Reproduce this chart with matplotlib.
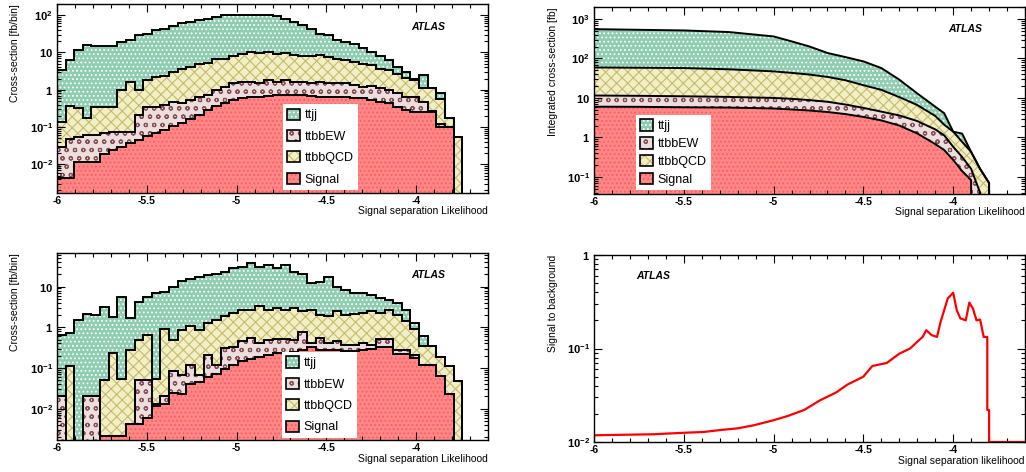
import numpy as np
import matplotlib
matplotlib.use("Agg")
import matplotlib.pyplot as plt
from matplotlib.patches import Patch
from matplotlib.ticker import MultipleLocator, LogLocator, NullFormatter

plt.rcParams['font.family'] = ['Liberation Sans', 'DejaVu Sans']
plt.rcParams['mathtext.fontset'] = 'custom'
plt.rcParams['mathtext.rm'] = 'Liberation Sans'
plt.rcParams['mathtext.bf'] = 'Liberation Sans:bold'
plt.rcParams['axes.unicode_minus'] = False
plt.rcParams['hatch.linewidth'] = 0.8

# likelihood binning (50 bins)
edges = np.linspace(-6.0, -3.6, 51)

# top left: stacked cross-section per bin [fb/bin], cumulative levels from the bottom
tl_signal = [0.0042, 0.0042, 0.0118, 0.0118, 0.0118, 0.019, 0.0245, 0.030, 0.037, 0.045,
             0.056, 0.070, 0.083, 0.106, 0.125, 0.16, 0.21, 0.29, 0.37, 0.45,
             0.53, 0.59, 0.65, 0.65, 0.69, 0.72, 0.72, 0.72, 0.72, 0.69,
             0.65, 0.65, 0.65, 0.65, 0.62, 0.59, 0.53, 0.48, 0.43, 0.35,
             0.29, 0.26, 0.26, 0.26, 0.10, 0.10, 0, 0, 0, 0]
tl_ttbbew = [0.030, 0.048, 0.053, 0.062, 0.062, 0.068, 0.075, 0.075, 0.075, 0.21,
             0.34, 0.35, 0.39, 0.48, 0.43, 0.53, 0.65, 0.72, 1.0, 1.2,
             1.5, 1.64, 1.64, 1.5, 1.8, 1.64, 1.8, 1.64, 1.64, 1.5,
             1.64, 1.5, 1.49, 1.49, 1.35, 1.2, 1.25, 1.1, 0.98, 0.80,
             0.65, 0.65, 0.48, 0.27, 0.12, 0.10, 0, 0, 0, 0]
tl_ttbbqcd = [0.14, 0.36, 0.32, 0.18, 0.34, 0.34, 0.34, 0.98, 1.6, 0.98,
              1.8, 2.2, 2.3, 3.0, 3.7, 4.1, 4.9, 5.3, 6.5, 6.9,
              8.0, 9.0, 10.0, 9.4, 10.0, 9.0, 9.4, 8.8, 8.0, 8.0,
              8.5, 7.7, 6.9, 6.2, 5.6, 5.0, 4.6, 3.7, 3.4, 2.7,
              2.1, 1.8, 1.15, 1.15, 0.55, 0.17, 0.055, 0, 0, 0]
tl_ttjj = [3.4, 6.2, 11.6, 16, 15, 15, 15, 19, 22, 29,
           32, 40, 44, 52, 60, 66, 73, 81, 90, 100,
           104, 104, 104, 100, 104, 96, 81, 66, 54, 44,
           32, 29, 21, 19, 17, 13, 10.4, 8.0, 6.2, 4.1,
           3.0, 2.0, 2.5, 1.15, 0.83, 0.17, 0.055, 0, 0, 0]

# bottom left: same, second selection
bl_signal = [0, 0, 0, 0, 0, 0.0021, 0.0021, 0.0021, 0.0042, 0.0042,
             0.006, 0.0115, 0.013, 0.024, 0.023, 0.04, 0.045, 0.06, 0.07, 0.095,
             0.12, 0.15, 0.17, 0.19, 0.21, 0.23, 0.23, 0.25, 0.27, 0.33,
             0.28, 0.27, 0.28, 0.26, 0.26, 0.28, 0.30, 0.33, 0.33, 0.22,
             0.22, 0.18, 0.12, 0.12, 0.063, 0.023, 0, 0, 0, 0]
bl_ttbbew = [0.02, 0, 0, 0.02, 0.02, 0.0021, 0.0021, 0.0021, 0.0042, 0.052,
             0.052, 0.013, 0.02, 0.083, 0.069, 0.12, 0.069, 0.21, 0.12, 0.31,
             0.33, 0.45, 0.54, 0.40, 0.5, 0.52, 0.52, 0.5, 0.75, 0.40,
             0.54, 0.40, 0.45, 0.36, 0.36, 0.41, 0.36, 0.52, 0.52, 0.28,
             0.28, 0.21, 0.12, 0.12, 0.063, 0.023, 0, 0, 0, 0]
bl_ttbbqcd = [0.02, 0.11, 0, 0.02, 0.02, 0.052, 0.23, 0.054, 0.28, 0.5,
              0.66, 0.055, 0.9, 0.5, 0.87, 1.1, 0.87, 1.27, 1.5, 1.9,
              2.3, 2.6, 2.7, 3.3, 2.7, 3.0, 2.6, 3.0, 2.5, 2.7,
              2.0, 1.85, 2.5, 2.0, 2.1, 2.2, 2.5, 2.3, 2.7, 2.0,
              1.4, 0.9, 0.34, 0.34, 0.19, 0.115, 0.048, 0, 0, 0]
bl_ttjj = [0.66, 0.72, 1.5, 2.1, 2.0, 3.1, 1.8, 5.7, 1.7, 4.3,
           5.7, 6.9, 7.5, 10, 14, 15, 17, 19, 21, 23,
           28, 31, 38, 31, 34, 28, 34, 23, 21, 12.5,
           13, 17.5, 10, 8.3, 7.1, 6.9, 6.2, 5.2, 4.7, 3.9,
           2.7, 1.27, 0.62, 0.34, 0.19, 0.115, 0.048, 0, 0, 0]

# top right: integrated cross-section [fb], stacked levels
tr_x = [-6.0, -5.75, -5.5, -5.25, -5.0, -4.9, -4.8, -4.7, -4.6, -4.5, -4.4,
        -4.3, -4.2, -4.1, -4.05, -4.0, -3.95, -3.9, -3.85, -3.8, -3.75]
tr_signal = [6.0, 5.95, 5.8, 5.7, 5.4, 5.1, 4.8, 4.4, 3.9, 3.3, 2.7,
             2.0, 1.26, 0.68, 0.48, 0.27, 0.14, 0.083, 0, 0, 0]
tr_ttbbew = [11.5, 11.3, 11.0, 10.6, 10.0, 9.5, 8.8, 8.0, 6.8, 5.6, 4.5,
             3.6, 2.6, 1.6, 1.13, 0.58, 0.32, 0.16, 0.04, 0, 0]
tr_ttbbqcd = [59, 58, 57, 53, 47, 43, 39, 34, 28, 21, 16,
              10.5, 6.6, 3.5, 2.1, 1.4, 0.77, 0.43, 0.16, 0.07, 0]
tr_ttjj = [550, 530, 510, 465, 360, 270, 200, 137, 108, 84, 57,
           29, 13, 6.0, 4.1, 1.4, 1.25, 0.43, 0.16, 0.07, 0]

# bottom right: signal to background
sb_x = [-6.0, -5.67, -5.48, -5.39, -5.30, -5.20, -5.11, -5.0, -4.92, -4.83,
        -4.74, -4.65, -4.59, -4.5, -4.45, -4.37, -4.30, -4.24, -4.20, -4.17,
        -4.15, -4.12, -4.09, -4.07, -4.05, -4.03, -4.0, -3.98, -3.96, -3.93,
        -3.91, -3.89, -3.87, -3.85, -3.83, -3.81, -3.81, -3.80, -3.80, -3.6]
sb = [0.0118, 0.0121, 0.0126, 0.0128, 0.0134, 0.014, 0.0151, 0.0171, 0.019, 0.022,
      0.028, 0.034, 0.041, 0.050, 0.065, 0.070, 0.088, 0.10, 0.118, 0.133,
      0.157, 0.139, 0.133, 0.193, 0.257, 0.343, 0.395, 0.257, 0.21, 0.20,
      0.31, 0.268, 0.20, 0.204, 0.133, 0.133, 0.022, 0.022, 0.01, 0.01]

names = ['ttjj', 'ttbbEW', 'ttbbQCD', 'Signal']
styles = {
    'ttjj': dict(fc='#8fcdb0', hc='white', hatch='....'),
    'ttbbEW': dict(fc='#ecdede', hc='#85504f', hatch='oo'),
    'ttbbQCD': dict(fc='#f3efc4', hc='#c4bb6e', hatch='xxx'),
    'Signal': dict(fc='#ff8787', hc='#ff5c5c', hatch='....'),
}

W, H = 1026, 472
fig = plt.figure(figsize=(W / 100, H / 100), dpi=100)


def add_ax(x0, y0, x1, y1):
    return fig.add_axes([x0 / W, 1 - y1 / H, (x1 - x0) / W, (y1 - y0) / H])


def log_label(v):
    if abs(v - 1) < 1e-9:
        return r'$\mathbf{1}$'
    if abs(v - 10) < 1e-9:
        return r'$\mathbf{10}$'
    return r'$\mathbf{10^{%d}}$' % round(np.log10(v))


def style_axes(ax, ylim, yticks):
    ax.set_yscale('log')
    ax.set_xlim(-6, -3.6)
    ax.set_ylim(*ylim)
    ax.set_xticks([-6, -5.5, -5, -4.5, -4], ['-6', '-5.5', '-5', '-4.5', '-4'],
                  fontweight='bold', fontsize=7.5)
    ax.set_yticks(yticks, [log_label(v) for v in yticks], fontsize=8)
    ax.xaxis.set_minor_locator(MultipleLocator(0.1))
    ax.yaxis.set_minor_locator(LogLocator(base=10, subs=np.arange(2, 10)))
    ax.yaxis.set_minor_formatter(NullFormatter())
    ax.tick_params(which='both', direction='in', top=True, right=True, width=0.8)
    ax.tick_params(which='major', length=6)
    ax.tick_params(axis='x', which='major', pad=2)
    ax.tick_params(axis='y', which='major', pad=3)
    ax.tick_params(which='minor', length=3)
    for s in ax.spines.values():
        s.set_linewidth(1.0)


def hist_stack(ax, levels):
    lower = np.zeros(len(edges) - 1)
    for name, top in levels:
        st = styles[name]
        ax.stairs(top, edges, baseline=lower, fill=True, facecolor=st['fc'],
                  edgecolor=st['hc'], hatch=st['hatch'], linewidth=0)
        lower = np.asarray(top)
    for name, top in levels:
        ax.stairs(top, edges, baseline=0, color='black', lw=1.4)


def curve_stack(ax, levels):
    lower = np.zeros(len(tr_x))
    for name, top in levels:
        st = styles[name]
        ax.fill_between(tr_x, lower, top, facecolor=st['fc'], edgecolor=st['hc'],
                        hatch=st['hatch'], linewidth=0)
        lower = np.asarray(top)
    for name, top in levels:
        ax.plot(tr_x, top, color='black', lw=1.4)


def add_legend(ax, anchor, spacing):
    handles = []
    for n in names:
        st = styles[n]
        handles.append((Patch(facecolor=st['fc'], edgecolor=st['hc'], hatch=st['hatch'], lw=0),
                        Patch(facecolor='none', edgecolor='black', lw=1.2)))
    leg = ax.legend(handles, names, loc='upper left', bbox_to_anchor=anchor,
                    borderaxespad=0, frameon=True, fancybox=False, framealpha=1,
                    edgecolor='white', facecolor='white', fontsize=9,
                    handlelength=1.0, handleheight=1.0, handletextpad=0.4,
                    labelspacing=spacing, borderpad=0.35)
    leg.get_frame().set_linewidth(0)


def atlas(ax, x, y):
    ax.text(x, y, 'ATLAS', transform=ax.transAxes, ha='center', va='center',
            fontsize=7.5, fontweight='bold', fontstyle='italic')


def labels(x0, x1, ytop, ybot, ylab, xlab):
    fig.text(x0 / W, 1 - ytop / H, ylab, rotation=90, ha='center', va='top', fontsize=7.5)
    fig.text(x1 / W, 1 - ybot / H, xlab, ha='right', va='center', fontsize=7.5)


ax_tl = add_ax(57, 4, 488, 193)
ax_tr = add_ax(594, 7, 1025, 194)
ax_bl = add_ax(57, 253, 488, 440)
ax_br = add_ax(594, 255, 1025, 442)

hist_stack(ax_tl, [('Signal', tl_signal), ('ttbbEW', tl_ttbbew),
                   ('ttbbQCD', tl_ttbbqcd), ('ttjj', tl_ttjj)])
style_axes(ax_tl, (1.7e-3, 200), [1e-2, 1e-1, 1, 10, 100])
add_legend(ax_tl, (0.524, 0.47), 0.68)
atlas(ax_tl, 0.861, 0.878)
labels(15, 488, 4, 211, 'Cross-section [fb/bin]', 'Signal separation Likelihood')

curve_stack(ax_tr, [('Signal', tr_signal), ('ttbbEW', tr_ttbbew),
                    ('ttbbQCD', tr_ttbbqcd), ('ttjj', tr_ttjj)])
style_axes(ax_tr, (0.037, 2000), [1e-1, 1, 10, 100, 1000])
add_legend(ax_tr, (0.097, 0.422), 0.4)
atlas(ax_tr, 0.861, 0.882)
labels(553, 1025, 7, 212, 'Integrated cross-section [fb]', 'Signal separation Likelihood')

hist_stack(ax_bl, [('Signal', bl_signal), ('ttbbEW', bl_ttbbew),
                   ('ttbbQCD', bl_ttbbqcd), ('ttjj', bl_ttjj)])
style_axes(ax_bl, (1.7e-3, 67), [1e-2, 1e-1, 1, 10])
add_legend(ax_bl, (0.522, 0.47), 0.68)
atlas(ax_bl, 0.861, 0.882)
labels(15, 488, 253, 459, 'Cross-section [fb/bin]', 'Signal separation Likelihood')

ax_br.plot(sb_x, sb, color='red', lw=1.6)
style_axes(ax_br, (0.01, 1), [1e-2, 1e-1, 1])
atlas(ax_br, 0.137, 0.888)
labels(553, 1025, 255, 461, 'Signal to background', 'Signal separation likelihood')

fig.savefig('out.png', dpi=100)
